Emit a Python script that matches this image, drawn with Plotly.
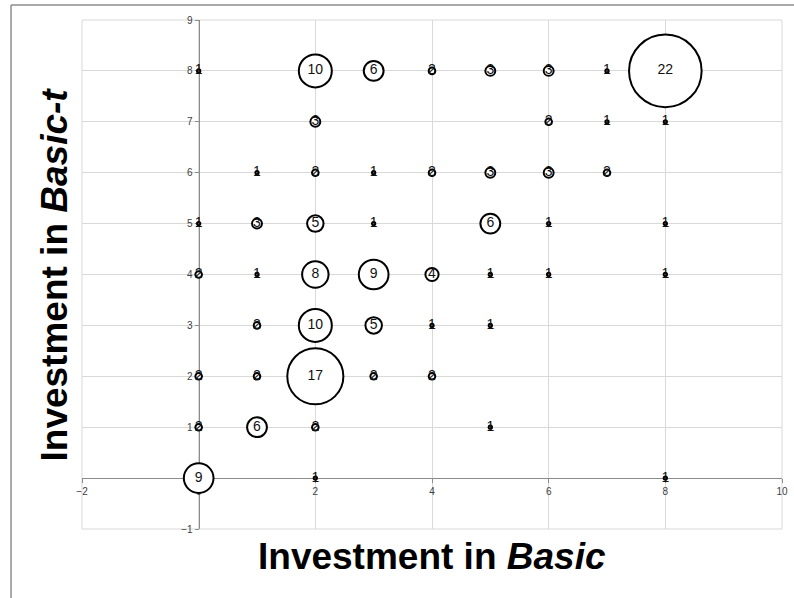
import plotly.graph_objects as go

# Investment in Basic (x), Investment in Basic-t (y), number of observations
basic = [0, 2, 3, 4, 5, 6, 7, 8,
         2, 6, 7, 8,
         1, 2, 3, 4, 5, 6, 7,
         0, 1, 2, 3, 5, 6, 8,
         0, 1, 2, 3, 4, 5, 6, 8,
         1, 2, 3, 4, 5,
         0, 1, 2, 3, 4,
         0, 1, 2, 5,
         0, 2, 8]
basic_t = [8, 8, 8, 8, 8, 8, 8, 8,
           7, 7, 7, 7,
           6, 6, 6, 6, 6, 6, 6,
           5, 5, 5, 5, 5, 5, 5,
           4, 4, 4, 4, 4, 4, 4, 4,
           3, 3, 3, 3, 3,
           2, 2, 2, 2, 2,
           1, 1, 1, 1,
           0, 0, 0]
counts = [1, 10, 6, 2, 3, 3, 1, 22,
          3, 2, 1, 1,
          1, 2, 1, 2, 3, 3, 2,
          1, 3, 5, 1, 6, 1, 1,
          2, 1, 8, 9, 4, 1, 1, 1,
          2, 10, 5, 1, 1,
          2, 2, 17, 2, 2,
          2, 6, 2, 1,
          9, 1, 1]

x_ticks = [-2, 0, 2, 4, 6, 8, 10]
y_ticks = [-1, 0, 1, 2, 3, 4, 5, 6, 7, 8, 9]

fig = go.Figure()
fig.add_trace(go.Scatter(
    x=basic, y=basic_t, mode="markers+text",
    text=[str(c) for c in counts],
    textposition="middle center",
    textfont=dict(family="Liberation Sans, Arial", size=14, color="#111111"),
    marker=dict(size=counts, sizemode="diameter", sizeref=1 / 3.3, opacity=1,
                color="white", line=dict(color="black", width=2)),
    cliponaxis=False, hoverinfo="skip", showlegend=False,
))

grid = "#d9d9d9"
axline = "#8c8c8c"
tickfont = dict(family="Liberation Sans, Arial", size=10, color="#404040")

fig.update_layout(
    width=794, height=598,
    margin=dict(l=82, r=12, t=20, b=69, autoexpand=False),
    paper_bgcolor="white", plot_bgcolor="white",
    xaxis=dict(range=[-2, 10], tickvals=x_ticks, showgrid=True, gridcolor=grid,
               gridwidth=1, zeroline=False, showline=True, linecolor=axline,
               linewidth=1, anchor="free", position=0.1, ticks="outside",
               ticklen=4, tickcolor=axline, tickfont=tickfont,
               layer="below traces", fixedrange=True),
    yaxis=dict(range=[-1, 9], tickvals=y_ticks, showgrid=True, gridcolor=grid,
               gridwidth=1, zeroline=False, showline=True, linecolor=axline,
               linewidth=1, anchor="free", position=1 / 6, ticks="outside",
               ticklen=4, tickcolor=axline, tickfont=tickfont,
               layer="below traces", fixedrange=True),
)

# plot-area border (grid lines at the range edges)
fig.add_shape(type="rect", xref="paper", yref="paper", x0=0, x1=1, y0=0, y1=1,
              line=dict(color=grid, width=1), layer="below")

title_font = dict(family="Liberation Sans, Arial", size=37, color="black")
fig.add_annotation(text="<b>Investment in <i>Basic</i></b>", xref="paper", yref="paper",
                   x=0.5, y=-0.055, xanchor="center", yanchor="middle",
                   showarrow=False, font=title_font)
fig.add_annotation(text="<b>Investment in <i>Basic-t</i></b>", xref="paper", yref="paper",
                   x=-0.04, y=0.5, xanchor="center", yanchor="middle", textangle=-90,
                   showarrow=False, font=title_font)

# outer chart frame (partially visible at top and left)
fig.add_shape(type="line", xref="paper", yref="paper", x0=-0.1014, x1=1.03,
              y0=1.0295, y1=1.0295, line=dict(color="#8c8c8c", width=1.5))
fig.add_shape(type="line", xref="paper", yref="paper", x0=-0.1014, x1=-0.1014,
              y0=1.0295, y1=-0.14, line=dict(color="#8c8c8c", width=1.5))

fig.write_html("out.html", config={"displayModeBar": False},
               post_script="document.body.style.margin='0';")
